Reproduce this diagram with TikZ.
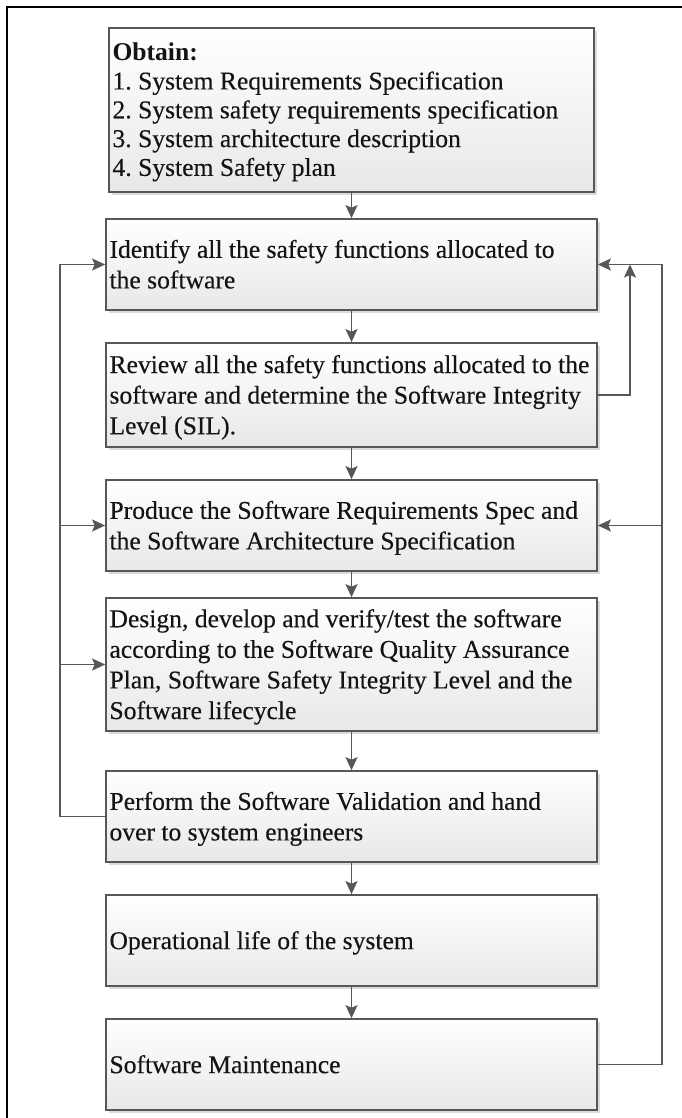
\documentclass[tikz,border=0pt]{standalone}
\usepackage{fontspec}
\setmainfont{Liberation Serif}[UprightFeatures={FakeBold=0.3}]
\usetikzlibrary{arrows.meta,shadows}
\definecolor{edge}{HTML}{575757}
\definecolor{ink}{HTML}{141414}
\definecolor{shade}{HTML}{E8E8E8}
% one unbreakable line per row, set a little below the box centre
\newcommand{\rows}[1]{\frenchspacing\raisebox{-2.5pt}[\height][\depth]{\begin{tabular}{@{}l@{}}#1\end{tabular}}}
\begin{document}
\begin{tikzpicture}[x=1pt,y=-1pt,
  stepbox/.style={draw=edge, line width=1.7pt, top color=white, bottom color=shade,
    drop shadow={shadow xshift=3pt,shadow yshift=-3pt,fill=black,opacity=0.14},
    inner xsep=3.5pt, inner ysep=0pt, align=flush left, text=ink,
    font=\fontsize{25.6}{30.6}\selectfont},
  wide/.style={minimum width=491pt, text width=484pt},
  arr/.style={draw=edge, line width=1.7pt, -{Stealth[length=13pt,width=12pt,inset=2.5pt]}}]
\useasboundingbox (0,0) rectangle (682,1118);
% outer frame
\draw[line width=2.2pt, black] (7,1118) -- (7,7) -- (682,7);

% process steps
\node[stepbox, minimum width=485pt, text width=478pt, minimum height=164pt,
      font=\fontsize{25.6}{28.8}\selectfont] (b1) at (351.5,110)
  {\rows{\textbf{Obtain:}\\
   1. System Requirements Specification\\
   2. System safety requirements specification\\
   3. System architecture description\\
   4. System Safety plan}};
\node[stepbox, wide, minimum height=91pt] (b2) at (351.5,264.5)
  {\rows{Identify all the safety functions allocated to\\ the software}};
\node[stepbox, wide, minimum height=104pt] (b3) at (351.5,395)
  {\rows{Review all the safety functions allocated to the\\ software and determine the Software Integrity\\ Level (SIL).}};
\node[stepbox, wide, minimum height=91pt] (b4) at (351.5,525.5)
  {\rows{Produce the Software Requirements Spec and\\ the Software Architecture Specification}};
\node[stepbox, wide, minimum height=133pt] (b5) at (351.5,664.5)
  {\rows{Design, develop and verify/test the software\\ according to the Software Quality Assurance\\ Plan, Software Safety Integrity Level and the\\ Software lifecycle}};
\node[stepbox, wide, minimum height=91pt] (b6) at (351.5,816.5)
  {\rows{Perform the Software Validation and hand\\ over to system engineers}};
\node[stepbox, wide, minimum height=91pt] (b7) at (351.5,940.5)
  {\rows{Operational life of the system}};
\node[stepbox, wide, minimum height=91pt] (b8) at (351.5,1064.5)
  {\rows{Software Maintenance}};

% main flow
\draw[arr] (b1.south) -- (b2.north);
\draw[arr] (b2.south) -- (b3.north);
\draw[arr] (b3.south) -- (b4.north);
\draw[arr] (b4.south) -- (b5.north);
\draw[arr] (b5.south) -- (b6.north);
\draw[arr] (b6.south) -- (b7.north);
\draw[arr] (b7.south) -- (b8.north);

% feedback rails
\coordinate (lx) at (60,0);
\coordinate (rin) at (630,0);
\coordinate (rout) at (662,0);

\draw[arr] (b6.west) -- (b6.west -| lx) |- (b2.west);
\draw[arr] (b4.west -| lx) -- (b4.west);
\draw[arr] (b5.west -| lx) -- (b5.west);

\draw[arr] (b3.east) -- (b3.east -| rin) -- (b2.east -| rin);
\draw[arr] (b8.east) -- (b8.east -| rout) |- (b2.east);
\draw[arr] (b4.east -| rout) -- (b4.east);
\end{tikzpicture}
\end{document}
